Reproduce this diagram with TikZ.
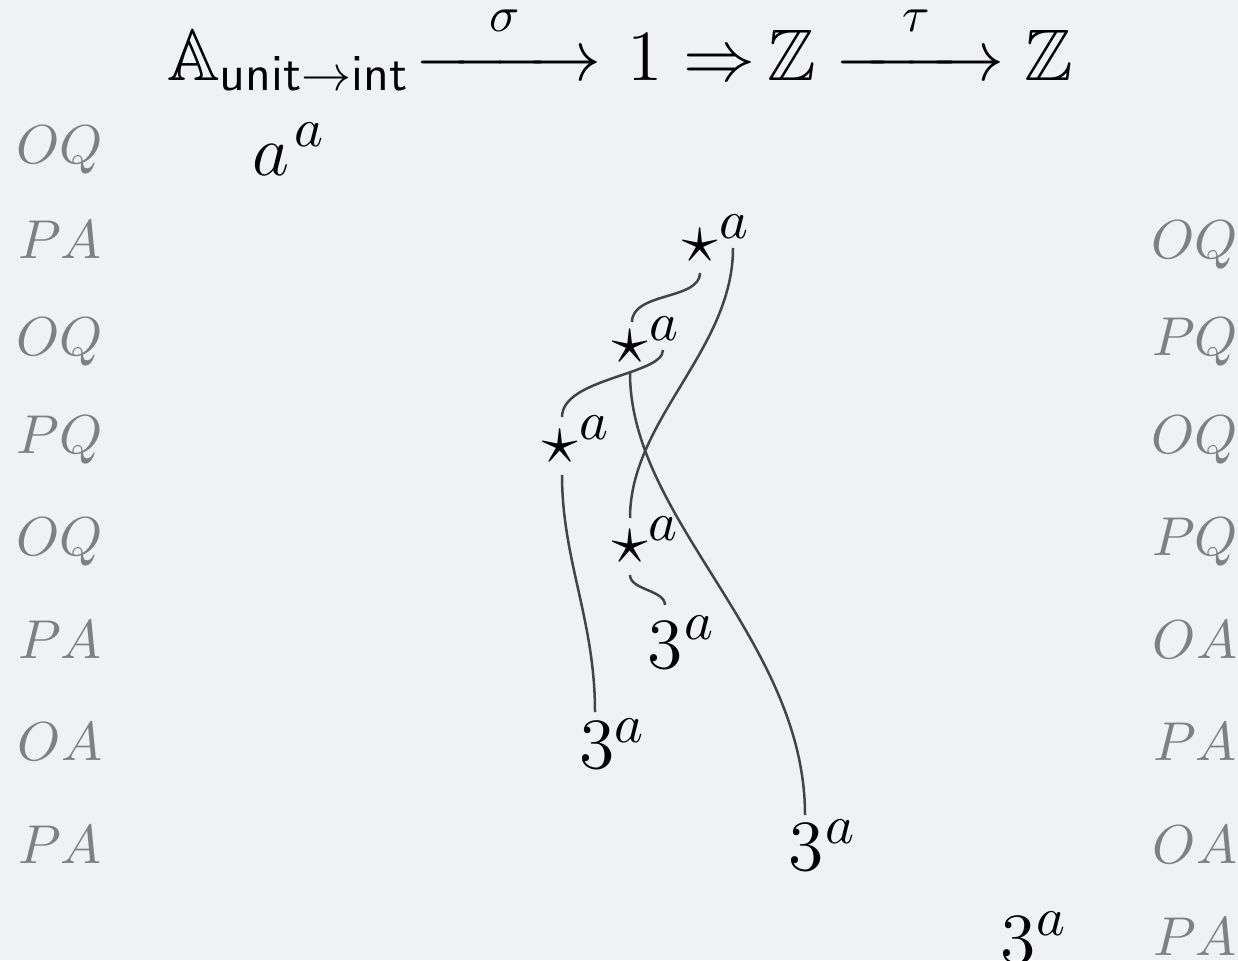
\documentclass[tikz,border=0pt]{standalone}
\usepackage{amsmath,amssymb}
\usetikzlibrary{calc}
\definecolor{bgc}{RGB}{240,241,243}
\definecolor{lblc}{RGB}{128,128,128}
\definecolor{linec}{RGB}{68,68,68}
\tikzset{
  lbl/.style={text=lblc,inner sep=0,anchor=base,font=\fontsize{10.5}{12}\selectfont},
  mainn/.style={inner sep=0,font=\fontsize{15}{18}\selectfont},
  supn/.style={inner sep=0,font=\fontsize{10.5}{12}\selectfont},
  conn/.style={draw=linec,line width=0.5pt}
}
\begin{document}
\begin{tikzpicture}[x=0.2pt,y=-0.2pt]
\fill[bgc] (0,0) rectangle (1238,960);
\useasboundingbox (0,0) rectangle (1238,960);
% title
\node[inner sep=0,anchor=base west,font=\fontsize{14.6}{18}\selectfont] (title) at (166,80)
  {$\mathbb{A}_{\mathsf{unit}\to\mathsf{int}}\mskip-3.5mu\xrightarrow{\hspace{0.8em}\raisebox{1.5pt}{$\scriptstyle\sigma$}\hspace{0.8em}}\mskip1.5mu1\Rightarrow\mskip-2mu\mathbb{Z}\xrightarrow{\hspace{0.7em}\raisebox{1.5pt}{$\scriptstyle\tau$}\hspace{0.7em}}\mathbb{Z}$};
% left labels
\foreach \t/\y [count=\i] in {OQ/148,PA/243,OQ/340,PQ/438,OQ/540,PA/643,OA/745,PA/848}
  \node[lbl] (L\i) at (60,\y+15) {$\t$};
\foreach \t/\y [count=\i] in {OQ/243,PQ/340,OQ/438,PQ/540,OA/643,PA/745,OA/848,PA/940}
  \node[lbl] (R\i) at (1195,\y+15) {$\t$};
% a^a
\node[mainn] (aa) at (271,160) {$a$};
\node[supn] (aas) at (309,135) {$a$};
% stars
\node[mainn] (s1) at (700,246) {$\star$};
\node[supn] (s1a) at (734,227) {$a$};
\node[mainn] (s2) at (630,347) {$\star$};
\node[supn] (s2a) at (664,329) {$a$};
\node[mainn] (s3) at (560,447) {$\star$};
\node[supn] (s3a) at (594,428) {$a$};
\node[mainn] (s4) at (630,547) {$\star$};
\node[supn] (s4a) at (663,529) {$a$};
% threes
\node[mainn] (t1) at (665,645) {$3$};
\node[supn] (t1a) at (699,628) {$a$};
\node[mainn] (t2) at (597,745) {$3$};
\node[supn] (t2a) at (629,731) {$a$};
\node[mainn] (t3) at (806,847) {$3$};
\node[supn] (t3a) at (840,832) {$a$};
\node[mainn] (t4) at (1018,940) {$3$};
\node[supn] (t4a) at (1051,924) {$a$};
% connectors
\draw[conn] ($(s1)+(0,27)$) .. controls ($(s1)+(0,54)$) and ($(s2)+(2,-55)$) .. ($(s2)+(2,-25)$);
\draw[conn] ($(s1a)+(-1,21)$) .. controls ($(s1a)+(-1,123)$) and ($(s4)+(0,-127)$) .. ($(s4)+(0,-29)$);
\draw[conn] ($(s2a)+(-1,21)$) .. controls ($(s2a)+(-1,46)$) and ($(s3)+(2,-69)$) .. ($(s3)+(2,-30)$);
\draw[conn] ($(s2)+(0,26)$) .. controls ($(s2)+(0,173)$) and ($(t3)+(-1,-207)$) .. ($(t3)+(-1,-32)$);
\draw[conn] ($(s3)+(2,28)$) .. controls ($(s3)+(2,113)$) and ($(t2)+(-2,-125)$) .. ($(t2)+(-2,-33)$);
\draw[conn] ($(s4)+(0,28)$) .. controls ($(s4)+(0,43)$) and ($(t1)+(0,-55)$) .. ($(t1)+(0,-40)$);
\end{tikzpicture}
\end{document}
